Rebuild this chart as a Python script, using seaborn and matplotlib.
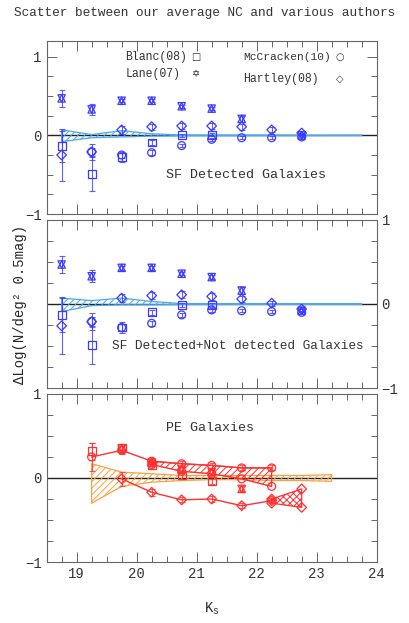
import numpy as np
import seaborn as sns
import matplotlib.pyplot as plt
from matplotlib.ticker import MultipleLocator

# magnitude bins
mags = [18.75, 19.25, 19.75, 20.25, 20.75, 21.25, 21.75, 22.25, 22.75]
band_x = [18.75, 19.25, 19.75, 20.25, 20.75, 21.25, 21.75, 22.25, 22.75, 23.25, 23.75]
nan = np.nan

# SF detected galaxies
sf_lane = [0.47, 0.33, 0.44, 0.44, 0.37, 0.34, 0.21, nan, 0.00]
sf_lane_err = [0.11, 0.07, 0.02, 0.02, 0.02, 0.02, 0.04, nan, 0.02]
sf_hartley = [-0.25, -0.21, 0.07, 0.11, 0.12, 0.12, 0.11, 0.07, 0.03]
sf_hartley_err = [0.33, 0.05, 0.05, 0.04, 0.04, 0.04, 0.04, 0.03, 0.03]
sf_mccracken = [nan, -0.21, -0.25, -0.22, -0.13, -0.05, -0.03, -0.03, -0.02]
sf_mccracken_err = [nan, 0.10, 0.04, 0.03, 0.02, 0.02, 0.02, 0.02, 0.02]
sf_blanc = [-0.14, -0.49, -0.28, -0.09, 0.00, 0.01, nan, nan, nan]
sf_blanc_err = [0.20, 0.22, 0.06, 0.03, 0.02, 0.02, nan, nan, nan]
sf_band_hi = [0.07, 0.01, 0.06, 0.02, 0.005, 0.004, 0.004, 0.004, 0.003, 0.003, 0.003]
sf_band_lo = [-0.08, -0.03, -0.02, -0.01, -0.006, -0.005, -0.005, -0.004, -0.004, -0.003, -0.003]

# SF detected + not detected
all_lane = [0.47, 0.33, 0.43, 0.43, 0.36, 0.32, 0.16, nan, -0.08]
all_lane_err = [0.10, 0.07, 0.02, 0.02, 0.02, 0.02, 0.04, nan, 0.02]
all_hartley = [-0.26, -0.21, 0.07, 0.10, 0.11, 0.09, 0.06, 0.01, -0.06]
all_hartley_err = [0.34, 0.05, 0.05, 0.04, 0.04, 0.04, 0.04, 0.03, 0.03]
all_mccracken = [nan, -0.21, -0.28, -0.23, -0.13, -0.07, -0.08, -0.09, -0.10]
all_mccracken_err = [nan, 0.10, 0.04, 0.03, 0.02, 0.02, 0.02, 0.02, 0.02]
all_blanc = [-0.13, -0.49, -0.28, -0.10, -0.01, -0.01, nan, nan, nan]
all_blanc_err = [0.20, 0.22, 0.06, 0.03, 0.02, 0.02, nan, nan, nan]
all_band_hi = [0.07, 0.04, 0.07, 0.03, 0.005, 0.004, 0.004, 0.004, 0.003, 0.003, 0.003]
all_band_lo = [-0.09, -0.02, -0.01, -0.01, -0.006, -0.005, -0.005, -0.004, -0.004, -0.003, -0.003]

# PE galaxies
pe_x = [19.25, 19.75, 20.25, 20.75, 21.25, 21.75, 22.25]
pe_mcc_hi = [0.25, 0.33, 0.20, 0.17, 0.15, 0.12, 0.12]
pe_mcc_hi_err = [0.17, 0.05, 0.04, 0.03, 0.03, 0.03, 0.03]
pe_lo_x = [20.25, 20.75, 21.25, 21.75, 22.25]
pe_mcc_lo = [0.16, 0.08, 0.05, -0.01, -0.10]
pe_blanc_x = [19.25, 19.75, 20.25, 20.75, 21.25]
pe_blanc = [0.32, 0.36, 0.15, 0.03, -0.04]
pe_blanc_err = [0.10, 0.05, 0.04, 0.04, 0.03]
pe_lane_x = [19.75, 20.25, 20.75, 21.25, 21.75]
pe_lane = [0.35, 0.18, 0.10, 0.07, -0.13]
pe_lane_err = [0.05, 0.04, 0.03, 0.03, 0.03]
pe_hart_x = [19.75, 20.25, 20.75, 21.25, 21.75, 22.25]
pe_hartley = [-0.01, -0.17, -0.26, -0.25, -0.33, -0.27]
pe_hartley_err = [0.08, 0.04, 0.03, 0.03, 0.03, 0.03]
pe_cross_x = [22.25, 22.75]
pe_cross_hi = [-0.25, -0.13]
pe_cross_lo = [-0.30, -0.35]
pe_band_x = [19.25, 19.75, 20.25, 20.75, 21.25, 21.75, 22.25, 22.75, 23.25]
pe_band_hi = [0.17, 0.07, 0.05, 0.03, 0.03, 0.03, 0.03, 0.03, 0.04]
pe_band_lo = [-0.30, -0.10, -0.05, -0.03, -0.02, -0.02, -0.03, -0.03, -0.04]

blue = '#3b3bff'
cyan = '#4aa8f0'
red = '#ff3030'
orange = '#ffa040'
ink = '#333333'

sns.set_theme(style="ticks")
plt.rcParams['font.family'] = ['Liberation Mono', 'DejaVu Sans']
plt.rcParams['hatch.linewidth'] = 0.7
plt.rcParams['text.color'] = ink
plt.rcParams['axes.edgecolor'] = '#666666'
plt.rcParams['xtick.color'] = '#666666'
plt.rcParams['ytick.color'] = '#666666'
plt.rcParams['xtick.labelcolor'] = ink
plt.rcParams['ytick.labelcolor'] = ink


def points(ax, x, y, err, marker, color, s=32):
    ax.errorbar(x, y, yerr=err, fmt='none', ecolor=color, elinewidth=0.8,
                capsize=2, capthick=0.8, alpha=0.8, zorder=3)
    for m in (['^', 'v'] if marker == 'star' else [marker]):
        sns.scatterplot(x=x, y=y, marker=m, s=s, color=color, edgecolor=color,
                        facecolor='none', linewidth=0.9, ax=ax, legend=False, zorder=4)


def band(ax, x, lo, hi, color, hatch='/////'):
    ax.fill_between(x, lo, hi, facecolor='none', edgecolor=color, hatch=hatch,
                    linewidth=0.9, zorder=2)


fig = plt.figure(figsize=(4.09, 6.23), dpi=100)
left, width = 0.114, 0.807
ax1 = fig.add_axes([left, 0.6565, width, 0.2777])
ax2 = fig.add_axes([left, 0.3772, width, 0.2697])
ax3 = fig.add_axes([left, 0.0979, width, 0.2697])

for ax in (ax1, ax2, ax3):
    ax.axhline(0, color='#222222', lw=1.0, zorder=1)
    ax.set_xlim(18.5, 24)
    ax.xaxis.set_major_locator(MultipleLocator(1))
    ax.xaxis.set_minor_locator(MultipleLocator(0.25))
    ax.yaxis.set_major_locator(MultipleLocator(1))
    ax.yaxis.set_minor_locator(MultipleLocator(0.25))
    ax.tick_params(which='both', direction='in', top=True, right=True, labelsize=10)
    ax.tick_params(which='major', length=7, width=0.7)
    ax.tick_params(which='minor', length=4, width=0.7)
    ax.set_xlabel('')
    ax.set_ylabel('')
    for sp in ax.spines.values():
        sp.set_linewidth(0.8)

# top panel
ax1.set_ylim(-1, 1.2)
band(ax1, band_x, sf_band_lo, sf_band_hi, cyan)
points(ax1, mags, sf_blanc, sf_blanc_err, 's', blue)
points(ax1, mags, sf_hartley, sf_hartley_err, 'D', blue, s=24)
points(ax1, mags, sf_mccracken, sf_mccracken_err, 'o', blue)
points(ax1, mags, sf_lane, sf_lane_err, 'star', blue, s=28)
ax1.tick_params(labelbottom=False)
ax1.text(21.82, -0.5, 'SF Detected Galaxies', ha='center', va='center', fontsize=9.6)
ax1.text(19.81, 1.0, 'Blanc(08)', ha='left', va='center', fontsize=8.3)
ax1.text(19.81, 0.78, 'Lane(07)', ha='left', va='center', fontsize=8.3)
ax1.text(21.78, 1.0, 'McCracken(10)', ha='left', va='center', fontsize=8.1)
ax1.text(21.78, 0.72, 'Hartley(08)', ha='left', va='center', fontsize=8.3)
ax1.text(20.98, 1.0, '\u25a1', ha='center', va='center', fontsize=7, family='DejaVu Sans')
ax1.text(20.98, 0.78, '\u2721', ha='center', va='center', fontsize=7, family='DejaVu Sans')
ax1.text(23.38, 1.0, '\u25cb', ha='center', va='center', fontsize=7, family='DejaVu Sans')
ax1.text(23.38, 0.72, '\u25c7', ha='center', va='center', fontsize=7, family='DejaVu Sans')

# middle panel
ax2.set_ylim(-1, 1)
band(ax2, band_x, all_band_lo, all_band_hi, cyan)
points(ax2, mags, all_blanc, all_blanc_err, 's', blue)
points(ax2, mags, all_hartley, all_hartley_err, 'D', blue, s=24)
points(ax2, mags, all_mccracken, all_mccracken_err, 'o', blue)
points(ax2, mags, all_lane, all_lane_err, 'star', blue, s=28)
ax2.tick_params(labelbottom=False, labelleft=False, labelright=True)
ax2.text(21.68, -0.5, 'SF Detected+Not detected Galaxies', ha='center', va='center', fontsize=9.2)
ax2.set_ylabel('\u0394Log(N/deg\u00b2 0.5mag)', fontsize=10, labelpad=11)

# bottom panel
ax3.set_ylim(-1, 1)
band(ax3, pe_band_x, pe_band_lo, pe_band_hi, orange)
band(ax3, pe_lo_x, pe_mcc_lo, pe_mcc_hi[2:], red)
band(ax3, pe_cross_x, pe_cross_lo, pe_cross_hi, red, hatch='xxxxx')
sns.lineplot(x=pe_x, y=pe_mcc_hi, color=red, lw=1.0, ax=ax3, legend=False, zorder=3)
sns.lineplot(x=pe_lo_x, y=pe_mcc_lo, color=red, lw=0.8, alpha=0.6, ax=ax3, legend=False, zorder=3)
sns.lineplot(x=pe_hart_x, y=pe_hartley, color=red, lw=1.0, ax=ax3, legend=False, zorder=3)
points(ax3, pe_x, pe_mcc_hi, pe_mcc_hi_err, 'o', red)
points(ax3, pe_lo_x, pe_mcc_lo, None, 'o', red)
points(ax3, pe_blanc_x, pe_blanc, pe_blanc_err, 's', red)
points(ax3, pe_lane_x, pe_lane, pe_lane_err, 'star', red, s=28)
points(ax3, pe_hart_x, pe_hartley, pe_hartley_err, 'D', red, s=24)
points(ax3, pe_cross_x, pe_cross_hi, None, 'D', red, s=24)
points(ax3, pe_cross_x, pe_cross_lo, None, 'D', red, s=24)
ax3.text(21.22, 0.6, 'PE Galaxies', ha='center', va='center', fontsize=9.6)
ax3.set_xlabel('$\\mathregular{K_s}$', fontsize=10, labelpad=14)

fig.text(0.5, 0.979, 'Scatter between our average NC and various authors',
         ha='center', va='center', fontsize=9.2)

fig.savefig('out.png', dpi=100)
